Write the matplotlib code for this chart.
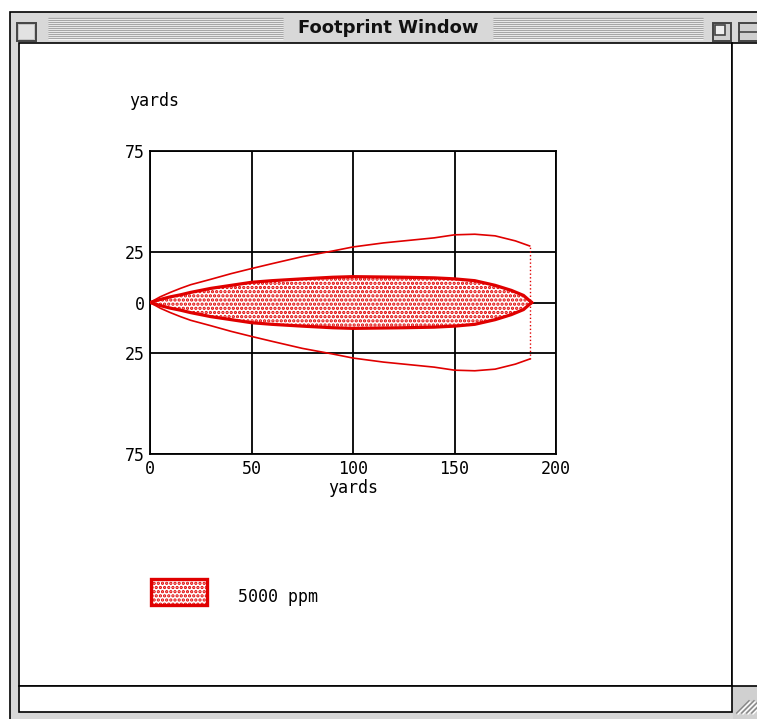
import numpy as np
import matplotlib
matplotlib.use('Agg')
import matplotlib.pyplot as plt
from matplotlib.patches import Rectangle

# footprint data (downwind yards, half-width in yards)
inner_x = [0, 5, 10, 15, 20, 30, 40, 50, 60, 75, 90, 100, 125, 140, 150, 160, 170, 178, 184, 188]
inner_y = [0, 1.5, 2.8, 3.8, 5, 7, 8.5, 10, 10.8, 11.7, 12.5, 12.8, 12.5, 12.2, 11.7, 10.8, 8.5, 6, 3.5, 0]
outer_x = [0, 5, 10, 15, 20, 30, 40, 50, 60, 75, 90, 100, 115, 125, 140, 150, 160, 170, 180, 187]
outer_y = [0, 2.8, 5, 7, 8.8, 11.5, 14.3, 16.8, 19.2, 22.7, 25.5, 27.5, 29.5, 30.5, 32, 33.5, 33.8, 33, 30.5, 28]
x_ticks = [0, 50, 100, 150, 200]
y_ticks = [-75, -25, 0, 25, 75]
y_tick_labels = ['75', '25', '0', '25', '75']
legend_label = '5000 ppm'
title = 'Footprint Window'

RED = '#e00000'
MONO = 'DejaVu Sans Mono'
W, H = 757, 719

plt.rcParams['hatch.linewidth'] = 1.6
plt.rcParams['hatch.color'] = RED

fig = plt.figure(figsize=(W / 100, H / 100), dpi=100)

# window chrome, drawn in pixel coords
bg = fig.add_axes([0, 0, 1, 1], zorder=0)
bg.set_xlim(0, W)
bg.set_ylim(H, 0)
bg.axis('off')

bg.add_patch(Rectangle((10, 12), W, H, facecolor='#d8d8d8', edgecolor='black', lw=1.2))
bg.add_patch(Rectangle((19, 43), 713, 643, facecolor='white', edgecolor='black', lw=1.2))
bg.add_patch(Rectangle((732, 43), 30, 643, facecolor='white', edgecolor='black', lw=1.2))
bg.add_patch(Rectangle((19, 686), 713, 26, facecolor='white', edgecolor='black', lw=1.2))
bg.add_patch(Rectangle((733, 687), 30, 40, facecolor='#d0d0d0', edgecolor='none'))
for k in range(4):
    o = k * 5
    bg.plot([737 + o, 749 + o], [713, 701], color='#8a8a8a', lw=1.3)
    bg.plot([738 + o, 750 + o], [714, 702], color='white', lw=1)

# title bar pinstripes
for yy in range(18, 40, 2):
    for xa, xb in [(48, 283), (493, 703)]:
        bg.plot([xa, xb], [yy, yy], color='#9c9c9c', lw=0.9, solid_capstyle='butt')
        bg.plot([xa, xb], [yy + 1, yy + 1], color='#f4f4f4', lw=0.9, solid_capstyle='butt')

# close box, zoom box, collapse box
bg.add_patch(Rectangle((17, 23), 19, 18, facecolor='#c4c4c4', edgecolor='#444444', lw=1.4))
bg.add_patch(Rectangle((19, 25), 15, 14, facecolor='#e2e2e2', edgecolor='none'))
bg.add_patch(Rectangle((713, 23), 18, 18, facecolor='#cfcfcf', edgecolor='#444444', lw=1.4))
bg.add_patch(Rectangle((715, 25), 10, 10, facecolor='#eeeeee', edgecolor='#444444', lw=1.2))
bg.add_patch(Rectangle((739, 23), 25, 18, facecolor='#cfcfcf', edgecolor='#444444', lw=1.4))
bg.plot([739, 760], [32, 32], color='#444444', lw=1.2)

bg.text(388, 28, title, ha='center', va='center', fontsize=13, fontweight='bold',
        family='DejaVu Sans', color='#111111')

# legend
bg.add_patch(Rectangle((151, 579), 56, 26, facecolor='white', edgecolor=RED, lw=2.4, hatch='....'))
bg.text(238, 597, legend_label, ha='left', va='center', fontsize=12, family=MONO)

# footprint plot
ax = fig.add_axes([150 / W, 1 - 454 / H, 406 / W, 303 / H], zorder=1)
ax.set_xlim(0, 200)
ax.set_ylim(-75, 75)

xi = np.array(inner_x)
yi = np.array(inner_y)
ax.fill_between(xi, -yi, yi, facecolor='white', edgecolor=RED, hatch='....', lw=0, zorder=2)
ax.plot(xi, yi, color=RED, lw=2.3, zorder=3)
ax.plot(xi, -yi, color=RED, lw=2.3, zorder=3)

xo = np.array(outer_x)
yo = np.array(outer_y)
ax.plot(xo, yo, color=RED, lw=1.2, zorder=3)
ax.plot(xo, -yo, color=RED, lw=1.2, zorder=3)
ax.plot([outer_x[-1], outer_x[-1]], [-outer_y[-1], outer_y[-1]], color=RED, lw=1, ls=':', zorder=3)

ax.set_xticks(x_ticks)
ax.set_yticks(y_ticks)
ax.set_yticklabels(y_tick_labels)
ax.tick_params(length=0, labelsize=12, pad=4)
for lab in ax.get_xticklabels() + ax.get_yticklabels():
    lab.set_family(MONO)
ax.grid(True, color='black', lw=1.3, zorder=1)
ax.set_axisbelow(True)
for sp in ax.spines.values():
    sp.set_linewidth(1.3)
ax.set_xlabel('yards', fontsize=12, family=MONO, labelpad=1)
fig.text(154 / W, 1 - 101 / H, 'yards', ha='center', va='center', fontsize=12, family=MONO)

fig.savefig('out.png', dpi=100)
